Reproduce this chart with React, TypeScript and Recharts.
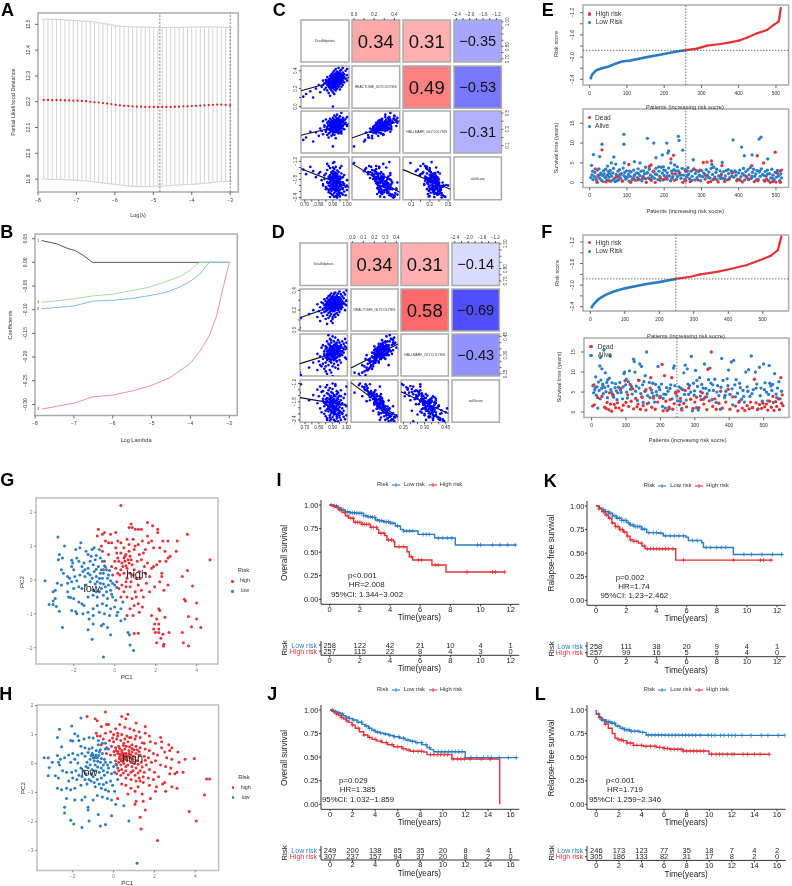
import React from "react";
import {
  ComposedChart,
  Line,
  Scatter,
  XAxis,
  YAxis,
  ErrorBar,
  ReferenceArea,
  ReferenceLine,
  ReferenceDot,
} from "recharts";

const RED = "#e0333a";
const BLUE = "#2b7cc2";
const INK = "#333";
const FRAME = "#ababab";
const PAD = 34;

// ---- A: lasso cv ----
const cvLambda = [-7.85,-7.74,-7.63,-7.52,-7.41,-7.3,-7.19,-7.08,-6.97,-6.86,-6.75,-6.64,-6.53,-6.42,-6.31,-6.2,-6.09,-5.98,-5.87,-5.76,-5.65,-5.54,-5.43,-5.32,-5.21,-5.1,-4.99,-4.88,-4.77,-4.66,-4.55,-4.44,-4.33,-4.22,-4.11,-4.0,-3.89,-3.78,-3.67,-3.56,-3.45,-3.34,-3.23,-3.12,-3.0];
const cvMean = [12.207,12.207,12.206,12.206,12.206,12.205,12.205,12.204,12.204,12.203,12.202,12.2,12.198,12.197,12.195,12.193,12.191,12.188,12.186,12.184,12.183,12.182,12.181,12.181,12.18,12.18,12.18,12.18,12.18,12.18,12.18,12.181,12.181,12.182,12.182,12.183,12.184,12.185,12.186,12.187,12.188,12.189,12.189,12.188,12.186];
const cvUpper = [12.52,12.52,12.519,12.519,12.518,12.517,12.516,12.515,12.514,12.513,12.512,12.511,12.509,12.506,12.504,12.501,12.498,12.495,12.493,12.492,12.491,12.49,12.49,12.49,12.489,12.489,12.488,12.487,12.487,12.487,12.488,12.488,12.488,12.489,12.489,12.489,12.49,12.49,12.49,12.49,12.49,12.49,12.489,12.488,12.487];
const cvLower = [11.9,11.899,11.899,11.898,11.898,11.897,11.897,11.896,11.895,11.894,11.893,11.891,11.889,11.887,11.885,11.883,11.881,11.879,11.877,11.875,11.873,11.872,11.871,11.871,11.871,11.871,11.872,11.872,11.873,11.874,11.875,11.876,11.877,11.878,11.879,11.88,11.881,11.882,11.884,11.885,11.887,11.889,11.891,11.891,11.89];
const cvTopPos = [-7.83,-7.55,-7.27,-6.99,-6.71,-6.43,-6.15,-5.87,-5.59,-5.31,-5.03,-4.75,-4.47,-4.19,-3.91,-3.63,-3.35,-3.07];
const cvTopCount = [4,4,4,4,4,3,3,3,3,3,3,3,3,3,3,2,1,1];

// ---- B: coefficient paths ----
const pathBlack = [[-7.83,.046],[-7.44,.039],[-7.18,.03],[-6.97,.025],[-6.76,.015],[-6.52,0],[-3,0]];
const pathGreen = [[-7.83,-.084],[-7.53,-.082],[-7,-.077],[-6.52,-.071],[-5.98,-.067],[-5.47,-.059],[-5.04,-.052],[-4.61,-.04],[-4.27,-.03],[-4,-.016],[-3.78,0],[-3,0]];
const pathBlue = [[-7.83,-.098],[-7.53,-.096],[-7,-.092],[-6.52,-.082],[-5.98,-.08],[-5.47,-.076],[-5.04,-.07],[-4.61,-.063],[-4.27,-.052],[-4,-.04],[-3.76,-.025],[-3.52,0],[-3,0]];
const pathPink = [[-7.83,-.31],[-7.44,-.304],[-6.97,-.297],[-6.52,-.284],[-5.98,-.28],[-5.47,-.271],[-5.04,-.261],[-4.53,-.244],[-4,-.213],[-3.76,-.188],[-3.52,-.156],[-3.33,-.114],[-3.16,-.054],[-3,0]];
const pathTopPos = [-8,-7,-6,-5,-4,-3];
const pathTopCount = [4,4,3,3,3,1];

// ---- C and D: patients [disulfidptosis, reactome, hallmark, risk] ----
const pairRowsC = [
[.69,.11,.17,-1.47],[.71,.14,.2,-1.62],[.74,.17,.27,-1.38],[.76,.1,.15,-1.52],[.78,.2,.26,-1.72],[.8,.24,.22,-1.6],[.81,.16,.31,-1.55],[.82,.22,.28,-1.82],[.83,.29,.24,-1.95],[.84,.19,.33,-1.66],
[.84,.26,.35,-1.78],[.85,.3,.29,-2.05],[.85,.21,.27,-1.6],[.86,.24,.38,-1.88],[.86,.33,.33,-2.1],[.86,.18,.3,-1.48],[.87,.27,.25,-1.7],[.87,.22,.36,-1.92],[.87,.31,.4,-2.15],[.87,.15,.2,-1.35],
[.88,.25,.31,-1.8],[.88,.34,.37,-2.02],[.88,.2,.34,-1.65],[.88,.28,.43,-2.25],[.88,.12,.26,-1.42],[.89,.36,.35,-2.28],[.89,.23,.28,-1.95],[.89,.3,.32,-1.72],[.89,.26,.41,-2.08],[.89,.18,.22,-1.58],
[.89,.33,.29,-2.18],[.9,.0,.09,-1.25],[.9,.27,.36,-1.85],[.9,.21,.3,-1.52],[.9,.35,.44,-2.32],[.9,.29,.24,-1.98],[.9,.24,.33,-1.68],[.9,.38,.38,-2.12],[.9,.16,.27,-1.75],[.9,.31,.4,-1.9],
[.91,.26,.34,-2.02],[.91,.22,.27,-1.45],[.91,.33,.36,-2.25],[.91,.4,.47,-2.38],[.91,.19,.31,-1.63],[.91,.28,.29,-1.78],[.91,.36,.42,-2.05],[.91,.24,.38,-1.92],[.91,.3,.33,-2.15],[.91,.14,.23,-1.55],
[.92,.27,.32,-1.72],[.92,.34,.39,-2.2],[.92,.21,.35,-1.85],[.92,.37,.3,-2.35],[.92,.25,.26,-1.38],[.92,.31,.45,-2.0],[.92,.42,.41,-2.1],[.92,.18,.19,-1.66],[.92,.29,.37,-1.95],[.92,.23,.33,-2.08],
[.93,.33,.35,-1.8],[.93,.28,.4,-2.28],[.93,.39,.43,-2.4],[.93,.2,.29,-1.5],[.93,.26,.31,-1.75],[.93,.36,.27,-2.12],[.93,.31,.48,-1.98],[.93,.23,.36,-1.62],[.94,.3,.34,-2.22],[.94,.38,.4,-1.9],
[.94,.27,.25,-1.84],[.94,.34,.44,-2.05],[.94,.22,.31,-1.55],[.94,.43,.38,-2.3],[.94,.29,.37,-1.7],[.95,.32,.42,-2.15],[.95,.25,.3,-1.42],[.95,.37,.33,-1.95],[.95,.4,.46,-2.36],[.95,.28,.39,-2.02],
[.95,.19,.26,-1.78],[.96,.34,.36,-2.1],[.96,.26,.34,-1.6],[.96,.41,.41,-2.25],[.96,.31,.28,-1.88],[.96,.36,.5,-2.0],[.97,.29,.35,-1.72],[.97,.38,.39,-2.3],[.97,.24,.31,-2.12],[.97,.43,.44,-1.9],
[.98,.33,.37,-1.95],[.98,.27,.41,-2.2],[.98,.36,.3,-1.65],[.99,.31,.38,-2.05],[.99,.4,.43,-2.32],[1.0,.35,.45,-2.0],[1.0,.29,.35,-1.82],[1.0,.42,.34,-2.15],[.93,.26,.29,-2.36],[.91,.35,.32,-1.22],
[.88,.3,.35,-2.38],[.85,.27,.42,-2.12],[.83,.24,.4,-2.0],[.94,.23,.28,-2.28],[.9,.32,.37,-1.4],[.89,.27,.39,-1.55],[.92,.36,.36,-1.58],[.87,.25,.34,-2.22],[.96,.22,.25,-1.35],[.86,.29,.23,-1.28],
[.86,.28,.31,-1.9],[.87,.24,.3,-2.0],[.87,.29,.35,-1.76],[.88,.22,.38,-1.72],[.88,.31,.29,-1.88],[.88,.26,.35,-2.12],[.89,.28,.33,-1.84],[.89,.21,.32,-1.78],[.89,.32,.38,-1.98],[.9,.25,.37,-2.05],
[.9,.29,.33,-1.62],[.9,.23,.27,-1.9],[.9,.33,.34,-2.1],[.91,.27,.37,-1.7],[.91,.31,.31,-1.86],[.91,.25,.3,-2.12],[.91,.34,.4,-1.92],[.92,.24,.29,-1.76],[.92,.28,.35,-2.18],[.92,.32,.33,-1.86],
[.92,.26,.41,-1.6],[.92,.35,.36,-2.02],[.93,.3,.37,-1.92],[.93,.24,.33,-2.0],[.93,.34,.31,-1.7],[.93,.27,.35,-2.15],[.93,.37,.38,-1.84],[.94,.26,.36,-1.92],[.94,.32,.32,-2.08],[.94,.35,.37,-1.78],
[.94,.25,.41,-2.18],[.95,.3,.36,-1.7],[.95,.34,.31,-2.24],[.95,.26,.37,-1.88],[.95,.36,.4,-1.8],[.96,.29,.32,-2.0],[.96,.33,.39,-1.74],[.96,.27,.38,-2.26],[.97,.32,.34,-1.9],[.97,.35,.42,-2.08],
];
const pairRowsD = [
[.66,.02,.16,-1.5],[.67,.12,.14,-1.22],[.73,.16,.2,-1.75],[.76,.2,.24,-1.58],[.79,.13,.18,-1.4],[.79,.26,.31,-1.85],[.8,.19,.25,-1.62],[.81,.09,.22,-1.3],[.81,.23,.29,-2.02],[.82,.17,.21,-1.48],
[.82,.28,.36,-2.15],[.83,.21,.27,-1.78],[.83,.14,.23,-1.45],[.84,.25,.33,-1.95],[.84,.31,.3,-2.2],[.84,.18,.19,-1.6],[.85,.22,.28,-1.72],[.85,.11,.17,-1.32],[.85,.29,.37,-2.28],[.85,.24,.24,-1.88],
[.86,.15,.26,-1.52],[.86,.32,.41,-2.35],[.86,.2,.31,-1.68],[.86,.27,.28,-2.05],[.86,.06,.15,-1.25],[.87,.23,.34,-1.82],[.87,.3,.33,-2.12],[.87,.17,.22,-1.55],[.87,.26,.39,-2.0],[.87,.12,.27,-1.42],
[.88,.21,.25,-1.7],[.88,.35,.43,-2.42],[.88,.28,.3,-1.92],[.88,.18,.32,-1.6],[.88,.24,.36,-1.98],[.88,.31,.38,-2.25],[.88,.14,.18,-1.35],[.89,.25,.29,-1.85],[.89,.2,.26,-1.48],[.89,.33,.35,-2.18],
[.89,.27,.42,-2.08],[.89,.16,.24,-1.65],[.89,.22,.33,-1.75],[.89,.37,.4,-2.38],[.9,.29,.31,-2.02],[.9,.19,.28,-1.52],[.9,.24,.37,-1.9],[.9,.34,.34,-2.3],[.9,.11,.21,-1.38],[.9,.26,.27,-1.8],
[.9,.31,.45,-2.15],[.9,.21,.3,-1.68],[.91,.28,.35,-2.1],[.91,.15,.26,-1.58],[.91,.36,.38,-2.22],[.91,.23,.32,-1.95],[.91,.19,.23,-1.72],[.91,.3,.41,-2.4],[.91,.25,.29,-1.62],[.92,.33,.37,-2.05],
[.92,.2,.34,-1.85],[.92,.27,.3,-1.78],[.92,.13,.2,-1.28],[.92,.38,.44,-2.45],[.92,.24,.39,-2.0],[.92,.3,.27,-2.12],[.93,.22,.31,-1.55],[.93,.35,.33,-2.28],[.93,.17,.25,-1.45],[.93,.28,.4,-1.92],
[.93,.32,.36,-2.35],[.93,.25,.28,-1.7],[.94,.2,.32,-1.82],[.94,.37,.42,-2.18],[.94,.29,.35,-2.08],[.94,.15,.19,-1.5],[.94,.26,.37,-1.65],[.95,.33,.3,-2.25],[.95,.22,.26,-1.88],[.95,.39,.4,-2.32],
[.95,.28,.34,-1.98],[.95,.18,.29,-1.6],[.96,.31,.38,-2.15],[.96,.25,.33,-1.75],[.96,.36,.31,-2.4],[.96,.21,.24,-1.42],[.97,.29,.36,-2.02],[.97,.34,.41,-2.2],[.97,.23,.3,-1.85],[.98,.27,.35,-1.68],
[.98,.38,.39,-2.3],[.98,.32,.32,-2.1],[.99,.26,.28,-1.55],[.99,.36,.43,-2.38],[.99,.2,.37,-1.9],[1.0,.4,.36,-2.25],[1.0,.3,.4,-1.95],[1.0,.25,.27,-1.3],[.9,.07,.13,-1.2],[.94,.33,.22,-2.45],
[.86,.25,.36,-2.4],[.88,.26,.33,-2.32],[.92,.16,.27,-1.22],[.85,.19,.21,-2.1],[.93,.24,.25,-2.22],[.9,.13,.3,-1.78],[.83,.27,.38,-1.7],[.87,.34,.46,-2.02],[.91,.37,.34,-1.95],[.89,.09,.16,-1.62],
[.84,.22,.31,-1.84],[.85,.26,.35,-1.8],[.86,.23,.29,-1.9],[.86,.28,.33,-1.78],[.87,.25,.31,-1.96],[.87,.21,.28,-1.7],[.87,.29,.3,-2.02],[.88,.23,.33,-1.88],[.88,.26,.27,-1.76],[.88,.3,.35,-2.06],
[.89,.24,.32,-1.94],[.89,.28,.37,-1.82],[.89,.21,.29,-1.78],[.89,.31,.31,-2.1],[.9,.25,.34,-1.72],[.9,.27,.31,-2.0],[.9,.23,.29,-1.86],[.9,.32,.36,-1.96],[.91,.26,.33,-1.8],[.91,.21,.35,-1.76],
[.91,.29,.28,-2.16],[.91,.33,.33,-2.04],[.92,.25,.31,-2.02],[.92,.22,.28,-1.62],[.92,.28,.38,-1.84],[.92,.31,.34,-2.2],[.93,.26,.34,-1.84],[.93,.23,.35,-1.96],[.93,.3,.31,-2.06],[.93,.33,.38,-1.76],
[.94,.24,.29,-1.72],[.94,.28,.33,-1.9],[.94,.31,.36,-2.24],[.94,.22,.35,-2.04],[.95,.26,.31,-1.8],[.95,.3,.37,-2.1],[.95,.24,.35,-2.16],[.96,.28,.3,-1.9],[.96,.23,.36,-1.62],[.97,.26,.33,-2.18],
];
const varNames = ["Disulfidptosis", "REACTOME_GLYCOLYSIS", "HALLMARK_GLYCOLYSIS", "riskScore"];
const corrC = [[0,.34,.31,-.35],[0,0,.49,-.53],[0,0,0,-.31]];
const corrD = [[0,.34,.31,-.14],[0,0,.58,-.69],[0,0,0,-.43]];
// fit line ends per [row, col], as risk/hallmark/reactome values at both ends of the x range
const fitC = { "1,0": [.176,.325], "2,0": [.226,.369], "3,0": [-1.44,-2.06], "2,1": [.193,.406], "3,1": [-1.27,-2.22], "3,2": [-1.47,-2.12] };
const fitD = { "1,0": [.123,.293], "2,0": [.232,.349], "3,0": [-1.664,-1.928], "2,1": [.197,.389], "3,1": [-1.17,-2.313], "3,2": [-1.467,-2.19] };
const tickC = [
  { all: [.7,.75,.8,.85,.9,.95,1], xLab: [.7,.8,.9,1], yLab: [.7,.8,1], dec: 2 },
  { all: [0,.1,.2,.3,.4], xLab: [0,.2,.4], yLab: [0,.2,.4], dec: 1 },
  { all: [.1,.2,.3,.4,.5], xLab: [.1,.3,.5], yLab: [.1,.3,.5], dec: 1 },
  { all: [-2.4,-2.2,-2,-1.8,-1.6,-1.4,-1.2], xLab: [-2.4,-2,-1.6,-1.2], yLab: [-2.4,-1.8,-1.2], dec: 1 },
];
const tickD = [
  { all: [.7,.75,.8,.85,.9,.95,1], xLab: [.7,.8,.9,1], yLab: [.7,.8,1], dec: 2 },
  { all: [0,.1,.2,.3,.4], xLab: [0,.1,.2,.3,.4], yLab: [0,.2,.4], dec: 1 },
  { all: [.15,.2,.25,.3,.35,.4,.45], xLab: [.15,.3,.45], yLab: [.15,.3,.45], dec: 2 },
  { all: [-2.4,-2.2,-2,-1.8,-1.6,-1.4,-1.2], xLab: [-2.4,-2,-1.6,-1.2], yLab: [-2.4,-1.8,-1.2], dec: 1 },
];

// ---- E: risk curve and survival scatter ----
const riskLowE = [[2,-2.4],[6,-2.32],[17,-2.24],[33,-2.2],[51,-2.17],[69,-2.12],[87,-2.08],[109,-2.06],[154,-2],[199,-1.945],[234,-1.9],[258,-1.875]];
const riskHighE = [[258,-1.875],[288,-1.848],[315,-1.794],[351,-1.764],[377,-1.734],[400,-1.704],[422,-1.65],[449,-1.572],[476,-1.512],[494,-1.42],[507,-1.362],[510,-1.27],[511,-1.2],[513,-1.116]];
const survDeadE = [[33,8.3],[15,3.5],[105,4.6],[160,4.1],[165,4.5],[218,6],[225,6.9],[305,5.1],[315,5.2],[327,5.5],[355,4.3],[450,6.8],[467,5],[498,7.7],[435,4.3],[22,1.7],[20,.1],[44,.2],[52,.5],[70,1.4],[78,1.7],[88,.4],[110,.1],[118,1],[130,.7],[145,1.3],[152,.1],[163,.9],[172,2.9],[176,.1],[190,1.2],[200,.9],[208,.9],[222,2.3],[228,.6],[240,2.4],[250,.1],[258,.5],[262,3],[270,.3],[280,3.5],[290,.7],[296,3.2],[312,1.7],[318,.1],[325,.3],[335,.9],[345,.2],[352,1.8],[362,.3],[374,.9],[382,2.5],[395,.5],[402,.8],[410,.2],[420,1.6],[428,.9],[442,.3],[452,.5],[470,.4],[475,.9],[485,.1],[492,.3],[500,.2],[505,2.5],[512,.1],[515,3.2]];
const survAliveE = [[5,4.4],[10,7.1],[27,6.6],[33,9.7],[92,12.2],[92,9.7],[155,11.2],[172,10],[178,6.3],[207,10],[210,7.5],[212,8],[195,7],[238,11.7],[240,10.7],[250,8.2],[278,5.8],[385,10.8],[408,9],[415,6.8],[436,7],[455,11],[460,11.5],[478,6],[356,5.1],[65,6.5],[58,5],[70,4.7],[93,5],[120,5.3],[135,5],[218,5],[228,4.5],[235,4],[48,4.2],[150,3.9],[185,4],[198,4],
[3,1.3],[6,2],[9,.8],[12,1.6],[14,2.6],[17,1],[21,3.2],[23,1.9],[25,3.5],[27,1.1],[30,2.4],[32,.6],[35,1.8],[37,3],[39,2.2],[41,1.3],[43,3.4],[46,.7],[48,2],[50,2.8],[52,1.4],[55,3.1],[57,.4],[59,1.7],[62,2.5],[64,3.6],[66,1],[68,.3],[71,2.1],[73,1.5],[76,2.9],[78,.8],[80,3.3],[83,1.2],[85,2.3],[87,.5],[90,3.7],[92,1.8],[94,2.6],[97,.9],[99,3],[101,1.4],[104,2.1],[106,.4],[109,1.6],[111,2.7],[114,.7],[116,1.1],[118,3.2],[121,2],[123,.6],[126,2.5],[128,1.3],[130,3.5],[133,.9],[135,1.8],[138,2.9],[140,.5],[143,1.5],[145,3],[147,2.2],[150,1],[155,2.6],[158,1.2],[160,3.4],[163,2],[166,.6],[168,1.5],[170,2.8],[174,1.1],[178,3.6],[180,2.1],[183,.8],[186,2.9],[188,1.6],[192,3.9],[195,2.4],[197,.7],[200,1.8],[203,3.1],[205,1.3],[208,2.5],[212,3.7],[214,1.7],[217,.5],[220,2.9],[223,1.5],[226,3.3],[230,2.2],[233,.9],[236,1.6],[238,3],[242,2.5],[245,1.1],[248,3.6],[252,1.9],[255,.8],[258,2.8],[260,1.4],[264,3.8],[266,2.2],[268,1],[272,2.9],[275,1.6],[278,3.3],[282,.7],[284,2.3],[288,1.3],[292,2.8],[294,1.9],[298,.5],[300,3.1],[303,1.5],[306,2.5],[310,.9],[313,3.3],[316,1.9],[320,2.7],[323,1.2],[326,3.6],[328,4.6],[330,2.1],[333,3.9],[336,1.4],[339,2.6],[342,.8],[346,1.7],[350,3],[354,2.2],[357,1.1],[360,2.8],[364,1.7],[367,3.1],[370,.7],[373,2.3],[376,1.3],[380,3],[384,2.6],[387,1.4],[390,3],[393,1.9],[397,.9],[400,2.5],[403,3.2],[406,1.5],[410,2.3],[413,3.6],[416,.7],[419,2.8],[422,1.3],[425,3.3],[428,2],[431,3.8],[434,1.1],[437,2.6],[440,3.4],[443,1.6],[446,2.2],[449,3.1],[452,.9],[455,2.7],[458,1.6],[461,3.5],[464,2.1],[468,.6],[471,2.8],[474,1.7],[477,3.2],[480,.5],[483,2.3],[486,1.2],[489,3.4],[492,1.9],[495,.8],[498,2.6],[501,1.4],[504,3.1],[507,1.7],[510,.5],[513,2.2],[515,1.2],
[8,2.9],[19,.5],[28,2],[36,.3],[44,1.5],[54,2.3],[63,.8],[74,.5],[82,2.1],[95,1.5],[107,2.9],[119,1.7],[131,2.3],[142,1.1],[153,2.4],[161,1.1],[176,2.2],[189,.6],[199,3.2],[209,1.7],[221,1.1],[231,3],[244,1.9],[256,3.3],[263,1.9],[274,.6],[286,3.1],[297,1.7],[309,2.1],[319,1.3],[331,.8],[341,3.4],[351,1.1],[363,.9],[372,3.3],[382,1.7],[392,2.7],[404,.6],[415,1.9],[426,.8],[436,1.6],[447,.7],[457,3],[469,1.8],[478,2.2],[491,1.1],[503,2.4],[512,3]];

// ---- F ----
const riskLowF = [[2,-2.43],[10,-2.35],[24,-2.26],[44,-2.18],[68,-2.12],[100,-2.06],[155,-1.99],[203,-1.94],[248,-1.885]];
const riskHighF = [[248,-1.885],[290,-1.845],[319,-1.8],[367,-1.754],[406,-1.7],[454,-1.627],[493,-1.534],[522,-1.46],[544,-1.35],[549,-1.225],[554,-1.1]];
const survDeadF = [[3,1.5],[8,1.8],[7,6.8],[18,3.6],[30,3.9],[38,1.2],[42,.9],[45,2.4],[50,.6],[52,4.8],[55,2],[58,.2],[62,4.2],[66,1.9],[70,1.1],[75,2.3],[80,1],[85,5.9],[88,.4],[92,1.7],[97,7.8],[100,2.4],[105,4.3],[108,1.4],[112,6.9],[115,2.7],[120,5.8],[122,.8],[128,3.4],[132,1.3],[135,2],[138,7.9],[142,.7],[147,3.7],[150,1.6],[155,5.2],[158,.5],[162,2.1],[170,6],[172,8.6],[175,1.2],[180,3.5],[185,.7],[192,2.5],[198,3.6],[205,11.9],[208,.3],[212,9.1],[216,2.7],[220,.4],[225,1.2],[228,3.1],[233,8.6],[236,.7],[240,2.1],[245,4.7],[252,5.2],[255,1.8],[258,3.4],[262,.5],[268,2.2],[272,5.4],[276,1.3],[282,6],[288,3.2],[295,.9],[300,2.5],[305,3.7],[312,1.1],[318,3.1],[322,4.8],[326,2],[330,3.7],[335,.6],[338,10.7],[342,2.8],[348,15],[352,1.4],[358,3.3],[362,.7],[370,2.2],[375,5.2],[380,1],[390,2.5],[397,5.7],[402,.7],[410,3.8],[418,1.5],[425,.3],[430,2.7],[438,1],[445,.4],[452,1.6],[458,.8],[462,2.5],[468,1.1],[473,8.2],[478,2.3],[482,.6],[488,1.9],[494,.9],[498,2.2],[503,1.3],[508,2],[512,.5],[517,2.7],[522,1.2],[527,3.9],[530,.4],[535,2.6],[538,1.4],[543,3.3],[546,.6],[550,8.6],[552,2.2],[554,4.3],[556,1.6]];
const survAliveF = [[4,6.6],[6,4.8],[9,5.5],[12,8.8],[14,4.2],[16,6.3],[18,1],[20,7.5],[22,5.4],[24,11.5],[26,13.6],[27,8],[29,5.9],[30,10.8],[32,7],[34,4.6],[36,15.5],[38,6.1],[40,9.8],[42,5.1],[44,7.4],[46,3.6],[48,6.5],[52,8.5],[54,14],[56,5.6],[60,7.3],[62,4.4],[64,3.7],[70,7.1],[72,5.3],[74,3.1],[78,6.2],[82,7.4],[86,4.9],[90,3.3],[94,9.6],[96,10],[99,6.8],[102,5],[104,3.5],[107,7.6],[110,10.3],[113,5.7],[118,4.5],[122,13.2],[124,12.6],[126,10],[130,6.5],[133,2.9],[136,8],[140,12],[143,4.6],[145,11.4],[148,6.8],[150,2.4],[152,7.6],[156,9.1],[160,15],[163,4.1],[166,2.3],[170,3.6],[174,5.5],[178,7.2],[180,4],[183,2.5],[186,6.9],[190,4.2],[193,11.4],[196,6.2],[200,3.9],[203,7],[206,1.4],[210,4.5],[214,1],[218,6.1],[222,5.2],[226,.8],[230,6.8],[234,3.3],[238,11],[240,11.5],[244,5],[248,4],[254,6.3],[258,2.7],[262,.9],[265,5.6],[268,9.8],[272,11.7],[275,3],[278,10.8],[282,4.4],[285,6.6],[290,13.9],[293,.3],[296,7.2],[299,5.3],[302,10.4],[305,1.1],[308,6.4],[310,.5],[314,8.6],[317,5.1],[320,6.9],[325,3.2],[328,12],[332,5.9],[336,4.6],[340,8.1],[344,11],[347,7.2],[350,3.1],[354,5.4],[358,8.2],[362,2.4],[366,6.6],[370,4.1],[374,.7],[378,13.4],[382,7.9],[386,3.6],[390,5.2],[394,8.3],[398,10.5],[402,4.4],[406,12.5],[410,1.8],[413,12.9],[416,6.8],[420,8.1],[424,4.7],[428,2.4],[432,6.1],[436,3.2],[440,5.4],[444,2.5],[448,10],[452,6.3],[456,10.6],[460,3.9],[464,14],[467,1.1],[470,5.6],[476,10],[480,7],[484,.8],[488,11.2],[492,6],[496,2.7],[500,12],[504,7.3],[508,5],[512,2.8],[516,11.6],[518,7.2],[521,6.5],[524,5.4],[528,2.4],[532,9.6],[536,4.5],[540,6],[544,7.6],[548,3.3],[552,5.2],
[11,6.1],[25,3.3],[33,6.6],[47,8.1],[58,4.9],[68,6.1],[76,4.8],[84,5.6],[92,6.3],[101,8.2],[116,6.4],[128,5.2],[138,6],[146,3.8],[158,5.6],[168,7.4],[176,4.8],[188,5.1],[198,5.6],[208,3.4],[216,4.4],[228,5.9],[242,6.6],[250,2.8],[260,5.9],[270,4.4],[280,7],[288,5],[298,4.2],[306,7.9],[316,4],[324,6],[334,3.8],[342,5.4],[352,6.8],[364,5],[376,6.2],[388,4.2],[396,6.6],[408,5.8],[418,3.8],[430,7.2],[442,3.9],[454,5.2],[466,4.6],[478,6],[490,4.1],[502,5.6],[514,4.4],[526,6.9],[538,3.6]];

// ---- G and H: PCA ----
const pcaHighG = [[.3,2.2],[.8,1.65],[.85,1.55],[.7,1.55],[1,1.5],[1.15,1.5],[1.3,1.5],[1.6,1.7],[1.85,1.6],[2.1,1.5],[2.1,1.4],[-.8,1.5],[-.6,1.35],[-.5,1.4],[-.85,1.3],[-.2,1.35],[.05,1.4],[1.6,1.3],[3.55,1.35],[2.35,1.15],[2.6,1.15],[3.05,1.15],[3,.85],[2.7,.7],[2.6,.65],[2.5,.55],[4.65,.6],[3.55,.28],[3.3,.1],[3.8,-.18],[2.6,-.15],[2.3,.2],[2.3,.1],[2.4,-.3],[-.65,1],[-.6,.85],[-.3,1.1],[-.15,1.1],[.05,.95],[.1,.8],[.3,1.1],[.45,.95],[.7,1.05],[.9,1.2],[1.15,1.05],[1.35,1.15],[1.65,1.1],[1.8,1.15],[1.9,.95],[2.2,.95],[2.45,.85],[1.5,.9],[1.2,.75],[.95,.9],[.7,.85],[.55,.75],[.45,.65],[.3,.8],[.15,.65],[0,.55],[-.3,.75],[-.5,.55],[-.55,.3],[-.15,.4],[.05,.35],[.2,.55],[.35,.5],[.5,.55],[.6,.35],[.75,.7],[.85,.45],[.95,.3],[1.1,.55],[1.3,.6],[1.45,.4],[1.6,.5],[1.8,.35],[1.9,.4],[2.05,.45],[2.2,.55],[1.7,.1],[2.2,-.05],[1.95,-.2],[1.55,-.1],[1.25,.05],[1.05,.05],[.8,-.05],[.6,.05],[.45,.2],[.25,.15],[.1,-.05],[.35,-.15],[.55,-.2],[.75,-.2],[1,-.35],[1.3,-.3],[1.7,-.35],[1.4,-.5],[1.05,-.5],[.85,-.55],[.6,-.5],[.3,-.5],[.45,-.35],[1.35,-.8],[1.15,-.7],[.95,-.75],[.75,-.85],[1.2,-.95],[.9,-1.05],[.6,-1.05],[1.8,-1.05],[2.15,-.85],[2.2,-.9],[2.05,-1.15],[2.45,-1.1],[3.4,-.57],[3.45,-.62],[4,-.68],[3.6,-1.08],[4,-1.15],[4.2,-1.4],[3.75,-1.38],[3.3,-1.55],[3.35,-1.85],[3.6,-1.95],[2.65,-1.55],[2.35,-1.6],[2.25,-1.72],[2.4,-1.9],[2.38,-1.95],[2.05,-1.85],[2.15,-1.3],[2.15,-1.45],[2.15,-1.55],[1.95,-1.3],[1.9,-1.45],[1.98,-1.55],[1.15,-1.57],[.95,-1.58],
[.5,.7],[.65,.6],[.8,.6],[.4,.4],[.55,.42],[.7,.5],[.3,.3],[.15,.2],[.9,.15],[1.2,.25],[1.5,.2],[-.1,.15],[.75,.2],[.55,-.05],[.2,-.25],[1.15,-.15],[1.4,.8],[1,1],[.6,1.2],[.15,1.15],[-.45,1.15]];
const pcaLowG = [[-3.4,-.02],[-3.2,-.72],[-3,-.72],[-3,-.62],[-2.9,-.55],[-2.85,-.78],[-3,-.35],[-2.9,-.3],[-2.6,-.15],[-2.8,-.1],[-2.77,1.27],[-2.45,1],[-1.65,1.1],[-1.7,.95],[-1.9,.9],[-1.4,.85],[-1.1,.9],[-1,.95],[-2.7,.75],[-2.75,.6],[-2.55,.65],[-2.1,.58],[-2.05,.5],[-2.1,.4],[-2,.3],[-1.5,.5],[-1.3,.75],[-1.15,.7],[-.9,.72],[-.75,.9],[-.7,.65],[-2.6,.3],[-2.5,.2],[-2.3,.1],[-2.2,.05],[-2.1,-.05],[-1.85,-.02],[-1.95,.1],[-1.6,.4],[-1.55,.25],[-1.45,.1],[-1.3,.35],[-1.2,.15],[-1.05,.45],[-1,.25],[-.9,.1],[-.8,.4],[-.7,.2],[-.6,.05],[-.5,.42],[-.4,.3],[-.3,.15],[-.2,-.02],[-.1,-.1],[0,-.15],[.1,-.22],[-.2,-.3],[-.45,-.2],[-.7,-.1],[-.95,-.12],[-1.2,-.05],[-1.4,-.15],[-1.6,-.25],[-1.75,-.2],[-2,-.25],[-2.25,-.5],[-2.15,-.52],[-2,-.55],[-2.3,-.35],[-1.75,-.65],[-1.6,-.7],[-1.5,-.75],[-1.3,-.5],[-1.05,-.45],[-.85,-.5],[-.75,-.35],[-.55,-.45],[-.35,-.55],[-.1,-.5],[.05,-.6],[.4,-.65],[.3,-.85],[.15,-.95],[0,-.8],[-.2,-.85],[-.4,-.75],[-.6,-.7],[-.85,-.75],[-1.05,-.85],[-1.3,-.95],[-1.55,-1],[-1.85,-1],[-2.1,-.9],[-1.9,-.93],[-2.7,-.92],[-2.55,-1.4],[-1.25,-1.15],[-1.05,-1.05],[-.75,-.95],[-.5,-1],[-.25,-1.05],[.1,-1.05],[.3,-1.2],[.5,-1.15],[-1.05,-1.3],[-.65,-1.35],[-.55,-1.3],[-.35,-1.4],[-1.3,-1.47],[-1.1,-1.75],[-.2,-1.62],[.65,-1.55],[.72,-1.62],[.75,-1.92],[.92,-2.08],[-.55,-2.27],
[-.75,.05],[-.55,.2],[-.35,.05],[-.65,.3],[-.45,.38],[-.9,.32],[-1.1,.05],[-1.3,.2],[-.85,-.05],[-.55,-.12],[-.3,-.15],[-1.05,-.3],[-.65,-.25],[-.4,-.35],[-.9,-.35],[-1.45,.3],[-1.2,.55],[-.6,.55],[-.95,.6],[-2.3,-.1],[-1.7,.15],[-1.75,.55],[-1.85,.65],[-.25,.28],[-.15,-.42]];
const pcaHighH = [[2.15,-2.65],[1.35,-2.25],[1.3,-1.85],[3.7,-1.65],[4.05,-1.98],[4.45,-1.08],[4.55,-.53],[4.7,-.53],[3.95,.18],[3.5,.15],[3.2,.05],[-1.3,1.62],[-.9,1.55],[-.8,1.48],[-.4,1.78],[.4,1.62],[.6,1.55],[.7,1.7],[1.1,1.4],[1.55,1.28],[-.6,1.28],[-.35,1.35],[-.25,1.35],[.1,1.2],[.3,1.35],[.55,1.25],[.8,1.2],[1,1.15],[1.25,1.1],[1.55,1.05],[1.75,.95],[2.3,.9],[2.35,.75],[2.7,.65],[2.85,.55],[2.75,.45],[3.15,.4],[2.05,.7],[2.35,.55],[2.5,.4],[-.85,1.05],[-.8,.95],[-.65,.95],[-.4,1.05],[-.15,1.1],[0,1],[.2,1.05],[.4,1],[.65,.95],[.85,.9],[1.05,.85],[1.3,.9],[1.5,.7],[1.8,.75],[-.5,.85],[-.2,.8],[0,.75],[.15,.85],[.35,.8],[.5,.7],[.7,.75],[.9,.65],[1.1,.6],[1.3,.55],[1.55,.5],[1.75,.45],[1.95,.35],[2.15,.3],[2.6,.2],[2.85,.15],[-.6,.65],[-.35,.55],[-.1,.6],[.1,.55],[.25,.6],[.4,.45],[.55,.5],[.75,.45],[.9,.4],[1.1,.35],[1.3,.3],[1.5,.25],[1.7,.2],[1.85,.05],[2.05,.1],[2.3,-.05],[2.55,-.1],[2.8,-.15],[3.1,-.3],[3,-.35],[2.75,-.35],[3.4,-.3],[-.35,.35],[-.15,.3],[.05,.3],[.2,.35],[.3,.25],[.35,.15],[.4,.3],[.45,.2],[.5,.25],[.55,.15],[.6,.35],[.7,.25],[.8,.2],[.95,.15],[1.15,.1],[1.35,.05],[1.6,-.05],[.1,.1],[.25,.05],[.5,0],[.7,-.05],[.9,-.1],[1.1,-.15],[1.3,-.25],[1.5,-.3],[1.75,-.2],[2,-.3],[2.2,-.45],[2.5,-.65],[1.95,-.55],[1.7,-.5],[1.45,-.45],[1.25,-.5],[1.05,-.4],[.85,-.3],[.6,-.25],[.4,-.2],[.2,-.15],[.15,-.35],[.35,-.4],[.6,-.5],[.85,-.55],[1.1,-.6],[1.3,-.6],[1.45,-.65],[1.75,-.75],[2.1,-.8],[2.4,-.7],[2.85,-.8],[3.1,-.85],[.4,-.7],[.6,-.75],[.85,-.85],[1.05,-.95],[1.2,-.8],[1.4,-1.05],[1.8,-1.2],[2.05,-.95],[2.55,-.95],[.7,-1.05],[1.1,-1.3],[1.05,-1.4],[1.45,-1.3],[.2,-1.2],[1.55,-1.6],
[.32,.32],[.42,.38],[.5,.35],[.62,.28],[.28,.18],[.38,.1],[.45,.08],[.58,.2],[.66,.12],[.75,.35],[.85,.3],[.22,.42],[.12,.45],[.02,.42],[.3,.52],[.48,.62],[.62,.6],[.78,.58],[.9,.52],[1,.48],[1.15,.48],[1.25,.42],[.98,.25],[.85,.05],[1.02,0],[1.2,-.02],[.6,-.1],[.35,-.05],[.12,-.02],[.25,-.25],[.48,-.32],[.72,-.38],[.95,-.25],[1.2,-.32],[1.4,-.12],[1.55,.12],[.78,.9],[.55,.85],[.2,.95],[-.05,.88],[1.1,.95],[1.4,.72]];
const pcaLowH = [[-3.4,.2],[-3.2,.2],[-3.15,-.13],[-3.2,-.42],[-2.85,-.42],[-3,.05],[-2.75,.28],[-2.75,.9],[-2.65,1.18],[-2.55,.58],[-2.1,.8],[-2,.78],[-2.05,1.3],[-1.6,1.57],[-1.9,1.03],[-1.75,.95],[-1.7,.8],[-1.45,.85],[-1.2,.9],[-1,.88],[-.75,.8],[-2.7,.05],[-2.6,.15],[-2.65,-.05],[-2.5,-.25],[-2.7,-.5],[-2.75,-.85],[-2.55,-.9],[-2.3,-.85],[-2.3,-1.2],[-2.4,-1.5],[-2.4,-1.7],[-2.1,-1.95],[-1.95,-2.08],[-1.55,-2.2],[-1.2,-1.98],[-.65,-2.15],[-.4,-2.1],[.75,-1.98],[1.15,-3.43],[-.1,-1.8],[-.75,-1.75],[-1.25,-1.6],[-1.25,-1.5],[-1.9,-1.25],[-1.55,-1.25],[-1.4,-1.15],[-1,-1.25],[-.8,-1.1],[-.55,-1.15],[-.3,-1.2],[-.1,-1.25],[.1,-1.4],[.5,-1.45],[-2.1,-.9],[-1.9,-.85],[-1.6,-.75],[-1.3,-.7],[-1.1,-.6],[-.9,-.8],[-.6,-.85],[-.4,-.9],[-.25,-.95],[-.05,-.75],[.05,-.95],[-2.2,-.6],[-2,-.5],[-1.8,-.55],[-1.55,-.45],[-1.35,-.35],[-1.2,-.55],[-1,-.45],[-.8,-.55],[-.6,-.5],[-.35,-.65],[-.15,-.6],[-2.3,-.3],[-2.05,-.3],[-1.85,-.25],[-1.6,-.15],[-1.45,-.25],[-1.25,-.15],[-1.05,-.2],[-.9,-.25],[-.7,-.3],[-.5,-.25],[-.3,-.3],[-.1,-.35],[.05,-.3],[.2,-.55],[-2.1,.05],[-2,.35],[-1.9,.15],[-1.75,.3],[-1.55,.35],[-1.4,.25],[-1.3,.05],[-1.15,.15],[-1.05,.35],[-.95,.1],[-.8,.2],[-.65,.05],[-.5,-.05],[-.3,-.05],[-.15,.05],[0,-.1],[.15,-.05],[-1.6,.6],[-1.4,.55],[-1.2,.5],[-1.05,.55],[-.85,.45],[-.7,.4],[-.55,.35],[-.75,.65],[-.55,.7],[-.4,.7],[-.25,.5],[-.45,.15],[-.95,.2],[-1,.3],[-.85,.3],[-.9,-.05],
[-1,.2],[-.88,.22],[-.78,.08],[-1.1,.28],[-.72,.28],[-.6,.18],[-.4,.05],[-.25,-.15],[-.6,-.15],[-.78,-.12],[-1.15,-.05],[-1.35,-.1],[-1.7,-.4],[-1.1,-.35],[-.45,-.4],[-1.4,-.55],[-.95,-.65],[-.7,-.7],[-.5,-.72],[-1.75,.02],[-2.2,.3],[-2.4,.2],[-1.25,.38],[-.65,.48],[-.4,.5]];

// ---- I-L: survival curves ----
const kmLowI = [[0,1],[.2,.99],[.49,.972],[.75,.95],[1.04,.929],[1.35,.918],[1.7,.912],[2.25,.887],[2.5,.875],[2.8,.869],[3.03,.841],[3.3,.833],[3.58,.823],[4.02,.806],[4.35,.777],[4.69,.742],[4.9,.724],[5.86,.689],[6.96,.65],[8.33,.576]];
const kmHighI = [[0,1],[.2,.985],[.38,.975],[.6,.95],[.82,.919],[1.05,.885],[1.26,.859],[1.59,.816],[2.14,.795],[2.7,.763],[3.14,.742],[3.25,.7],[3.65,.675],[3.8,.629],[4.24,.611],[4.31,.558],[5.0,.555],[5.13,.505],[5.28,.452],[5.5,.417],[6.78,.364],[7.71,.29]];
const marksLowI = [.3,.45,.6,.75,.9,1.05,1.2,1.35,1.5,1.65,1.8,1.95,2.1,2.25,2.4,2.55,2.7,2.85,3.0,3.15,3.3,3.45,3.6,3.75,3.9,4.05,4.2,4.5,4.9,5.1,5.3,5.5,6.2,6.4,6.6,7.2,7.5,7.8,8.1,9.8,10,10.8,11.3,11.8,12.3];
const marksHighI = [.1,.3,.5,.65,.8,1,1.2,1.4,1.55,1.7,1.85,2,2.15,2.3,2.45,2.6,2.75,2.9,3.1,3.4,3.6,3.9,4.1,4.6,4.9,5.4,5.9,6.1,7,7.2,9.1,10.8,11.0,11.6];
const kmLowJ = [[0,1],[.25,.99],[.5,.98],[.7,.97],[.92,.958],[1.15,.94],[1.4,.925],[1.7,.91],[2,.894],[2.4,.87],[2.83,.848],[3.1,.83],[3.42,.806],[3.7,.785],[4.01,.767],[4.4,.755],[4.75,.746],[5.2,.73],[5.64,.717],[6.15,.7],[6.67,.682],[7.1,.668],[7.56,.654],[8.15,.633],[8.59,.601],[8.9,.58],[9.18,.558],[11.98,.495]];
const kmHighJ = [[0,1],[.2,.985],[.4,.97],[.6,.955],[.77,.94],[1,.92],[1.2,.905],[1.45,.885],[1.65,.869],[1.95,.84],[2.24,.806],[2.6,.77],[2.98,.735],[3.35,.71],[3.72,.689],[4.15,.67],[4.6,.654],[5.1,.632],[5.64,.611],[6.38,.59],[6.75,.575],[7.11,.562],[8.3,.555],[8.59,.527],[10.8,.481],[15.03,0]];
const marksLowJ = [.2,.5,.8,1.1,1.4,1.7,2.1,2.5,2.8,3.2,3.5,3.9,4.2,4.5,4.9,5.3,5.7,6.1,6.5,6.9,7.3,7.7,8.1,8.5,8.8,9.6,9.9,10.2,10.5,10.8,11.1,11.4,11.7,12.5,13.0,13.6,14.0,14.3,15,15.8,16.5];
const marksHighJ = [.3,.6,1,1.5,2,2.5,3,3.5,4,4.5,5,5.5,6,6.5,7,7.4,7.8,8.1,8.9,9.2,9.5,9.8,10.1,10.4,10.9,11.3,11.6,11.9,12.4,13.4,14.2];
const kmLowK = [[0,1],[.2,.98],[.38,.958],[.6,.94],[.82,.923],[1.1,.895],[1.37,.87],[1.7,.847],[2.03,.824],[2.25,.8],[2.48,.782],[3.03,.754],[3.36,.718],[4.13,.711],[4.46,.683],[5.97,.669],[6.12,.634],[7,.61],[7.12,.56],[9.1,.486]];
const kmHighK = [[0,1],[.2,.97],[.38,.94],[.6,.905],[.82,.87],[1.05,.82],[1.26,.782],[1.55,.75],[1.81,.722],[2.05,.68],[2.25,.641],[2.5,.625],[2.81,.606],[3.05,.575],[3.25,.546],[5.28,.426]];
const marksLowK = [.5,.65,.8,.95,1.1,1.25,1.4,1.55,1.7,1.85,2,2.15,2.3,2.45,2.6,2.75,2.9,3.05,3.2,3.5,3.8,4,4.3,4.6,4.9,5.2,5.5,5.8,6.4,6.7,7.3,7.6,8.0,8.3,8.6,9.8,10.3,11,11.7,12.3];
const marksHighK = [.2,.5,.7,.9,1.1,1.3,1.45,1.6,1.75,1.9,2.1,2.3,2.5,2.7,3,3.2,3.4,3.6,3.8,4,4.2,4.4,4.6,4.8,5.1,5.8,9.1,10.9,11.1,11.6];
const kmLowL = [[0,1],[0,.958],[.25,.92],[.47,.894],[.9,.875],[1.36,.859],[1.7,.83],[2.1,.806],[2.5,.79],[2.98,.774],[3.87,.763],[4.4,.735],[6,.733],[10,.731]];
const kmHighL = [[0,1],[0,.954],[.25,.92],[.47,.894],[.75,.85],[1.06,.806],[1.4,.75],[1.65,.7],[1.9,.685],[2.24,.675],[2.7,.65],[3.28,.625],[4.16,.615],[5.34,.604],[6,.592],[6.52,.583],[7.7,.565],[9.98,.53]];
const marksLowL = [.2,.35,.5,.65,.9,1.05,1.2,1.4,1.6,1.9,2.3,2.5,2.7,2.9,3.1,3.4,3.7,4.1,4.6,4.9,5.2,5.5,5.8,6.1,6.4,6.7,7,7.3,7.6,7.9,8.2,8.5,8.8,9.2,9.9,10.2,10.5,11,11.3,11.7,12,12.3,12.9,13.7,14.6,15.2,16.1,16.7];
const marksHighL = [.3,.8,2,2.2,2.4,2.7,3,3.3,3.6,4,4.4,4.8,5.2,5.6,6,6.3,6.6,6.9,7.2,7.5,7.7,8,8.3,8.6,8.9,9.2,9.5,10.2,10.6,10.9,11.2,11.6,12,12.2,13,13.4,14,14.5,15.3];
const atRiskI = { low: [258,122,42,21,10,4,1], high: [257,115,22,8,4,3,0], t: [0,2,4,6,8,10,12] };
const atRiskJ = { low: [249,200,138,85,35,20,8,4,1], high: [307,237,157,94,37,20,8,2,0], t: [0,2,4,6,8,10,12,14,16] };
const atRiskK = { low: [258,111,38,20,9,4,1], high: [257,99,16,5,5,4,0], t: [0,2,4,6,8,10,12] };
const atRiskL = { low: [246,173,123,77,35,18,7,4,2], high: [305,186,133,82,31,17,8,2,0], t: [0,2,4,6,8,10,12,14,16] };

const toXY = (pairs) => pairs.map(([x, y]) => ({ x, y }));
const num = (v, d) => v.toFixed(d).replace("-", "\u2212");

function T({ x, y, size = 6, rot = 0, anchor = "middle", color = INK, weight = 400, children }) {
  const shift = anchor === "end" ? "-100%" : anchor === "start" ? "0" : "-50%";
  return (
    <div
      style={{
        position: "absolute",
        left: x,
        top: y,
        fontSize: size,
        lineHeight: 1,
        color,
        fontWeight: weight,
        whiteSpace: "nowrap",
        transform: `translate(${shift},-50%) rotate(${rot}deg)`,
      }}
    >
      {children}
    </div>
  );
}

function Dot({ x, y, r = 1.7, color }) {
  return <div style={{ position: "absolute", left: x - r, top: y - r, width: 2 * r, height: 2 * r, borderRadius: "50%", background: color }} />;
}

const rotTick = (side, size = 5, labels = null, dec = 1) => (p) => {
  const { x, y, payload } = p;
  if (labels && !labels.includes(payload.value)) return <g />;
  const tx = side === "left" ? x : x + size * 0.8;
  const txt = dec === null ? String(payload.value).replace("-", "\u2212") : num(payload.value, dec);
  return (
    <text x={tx} y={y} transform={`rotate(-90 ${tx} ${y})`} textAnchor="middle" fontSize={size} fill={INK}>
      {txt}
    </text>
  );
};

// chart whose plot area is exactly the given pixel rectangle on the page;
// axes take 1px each, an axis of size 0 does not draw
function Plot({ x0, y0, x1, y1, axes = "lb", children }) {
  const used = (s) => (axes.includes(s) ? 1 : 0);
  return (
    <div style={{ position: "absolute", left: x0 - PAD, top: y0 - PAD }}>
      <ComposedChart
        width={x1 - x0 + 2 * PAD}
        height={y1 - y0 + 2 * PAD}
        margin={{ top: PAD - used("t"), right: PAD - used("r"), bottom: PAD - used("b"), left: PAD - used("l") }}
      >
        {children}
      </ComposedChart>
    </div>
  );
}

const frame = (xd, yd, stroke = FRAME, fill = "none", extra = {}) => (
  <ReferenceArea x1={xd[0]} x2={xd[1]} y1={yd[0]} y2={yd[1]} stroke={stroke} strokeWidth={1.5} fill={fill} fillOpacity={1} ifOverflow="visible" {...extra} />
);

const dotShape = (r, color) => (p) => <circle cx={p.cx} cy={p.cy} r={r} fill={color} />;

const xAxisR = (domain, ticks, size = 5) => (
  <XAxis type="number" dataKey="x" domain={domain} ticks={ticks} allowDataOverflow height={1} interval={0} axisLine={false} tickSize={3} tickMargin={3} tickLine={{ stroke: "#666" }} tick={{ fontSize: size, fill: INK }} tickFormatter={(v) => String(v).replace("-", "\u2212")} />
);

function CvPanel() {
  const rows = cvLambda.map((x, i) => ({ x, mean: cvMean[i], err: [cvMean[i] - cvLower[i], cvUpper[i] - cvMean[i]] }));
  const xd = [-8, -2.79];
  const yd = [11.85, 12.544];
  return (
    <Plot x0={37.7} y0={13} x1={238} y1={192} axes="lbt">
      {xAxisR(xd, [-8,-7,-6,-5,-4,-3])}
      <XAxis xAxisId="top" orientation="top" type="number" domain={xd} ticks={cvTopPos} allowDataOverflow height={1} interval={0} axisLine={false} tickLine={false} tickMargin={6} tick={{ fontSize: 5, fill: INK }} tickFormatter={(v, i) => String(cvTopCount[i])} />
      <YAxis type="number" domain={yd} ticks={[11.9,12,12.1,12.2,12.3,12.4,12.5]} allowDataOverflow width={1} interval={0} axisLine={false} tickSize={3} tickMargin={5} tickLine={{ stroke: "#666" }} tick={rotTick("left", 5)} />
      {frame(xd, yd)}
      <Line data={rows} dataKey="mean" stroke="none" isAnimationActive={false} dot={{ r: 1.1, fill: "#f01414", stroke: "none" }}>
        <ErrorBar dataKey="err" direction="y" width={2.5} stroke="#cfcfcf" strokeWidth={0.9} isAnimationActive={false} />
      </Line>
      <ReferenceLine x={-4.83} stroke="#333" strokeWidth={0.6} strokeDasharray="2 1.5" ifOverflow="visible" />
      <ReferenceLine x={-3} stroke="#333" strokeWidth={0.6} strokeDasharray="2 1.5" ifOverflow="visible" />
    </Plot>
  );
}

function PathPanel() {
  const xd = [-8, -2.794];
  const yd = [-0.3232, 0.0599];
  const lines = [[pathBlack, "#555"], [pathGreen, "#a6dc9e"], [pathBlue, "#7cbbe8"], [pathPink, "#ee8fa4"]];
  const tags = [[-7.92, .045, "1"], [-7.92, -.083, "4"], [-7.92, -.097, "6"], [-7.92, -.309, "3"]];
  return (
    <Plot x0={35} y0={234.3} x1={237.3} y1={415.7} axes="lbt">
      {xAxisR(xd, [-8,-7,-6,-5,-4,-3])}
      <XAxis xAxisId="top" orientation="top" type="number" domain={xd} ticks={pathTopPos} allowDataOverflow height={1} interval={0} axisLine={false} tickLine={false} tickMargin={5} tick={{ fontSize: 5, fill: INK }} tickFormatter={(v, i) => String(pathTopCount[i])} />
      <YAxis type="number" domain={yd} ticks={[-.3,-.25,-.2,-.15,-.1,-.05,0,.05]} allowDataOverflow width={1} interval={0} axisLine={false} tickSize={3} tickMargin={5} tickLine={{ stroke: "#666" }} tick={rotTick("left", 5, null, 2)} />
      {frame(xd, yd)}
      {lines.map(([d, c], i) => (
        <Line key={i} data={toXY(d)} dataKey="y" stroke={c} strokeWidth={1} dot={false} isAnimationActive={false} />
      ))}
      {tags.map(([x, y, t]) => (
        <ReferenceDot key={y} x={x} y={y} r={0} stroke="none" label={{ value: t, fontSize: 3.5, fill: INK }} />
      ))}
    </Plot>
  );
}

function PairCell({ cfg, r, c }) {
  const xd = cfg.dom[c];
  const yd = cfg.dom[r];
  const [x0, x1] = cfg.xs[c];
  const [y0, y1] = cfg.ys[r];
  const top = r === 0 && (c === 1 || c === 3);
  const bottom = r === 3 && (c === 0 || c === 2);
  const left = c === 0 && (r === 1 || r === 3);
  const right = c === 3 && (r === 0 || r === 2);
  const tx = cfg.ticks[c];
  const ty = cfg.ticks[r];
  const pts = r > c ? cfg.rows.map((row) => ({ x: row[c], y: row[r] })) : [];
  const fit = r > c ? cfg.fit[`${r},${c}`] : null;
  let fill = "#fff";
  let label = null;
  if (r === c) label = { value: varNames[r], position: "center", fontSize: 3.4, fill: "#333" };
  if (r < c) {
    const v = cfg.corr[r][c];
    const g = Math.round(255 * (1 - Math.abs(v)));
    fill = v > 0 ? `rgb(255,${g},${g})` : `rgb(${g},${g},255)`;
    label = { value: num(v, 2), position: "center", fontSize: v < 0 ? 14.6 : 18.5, fill: "#111" };
  }
  const axes = (top ? "t" : "") + (bottom ? "b" : "") + (left ? "l" : "") + (right ? "r" : "");
  return (
    <Plot x0={x0} y0={y0} x1={x1} y1={y1} axes={axes}>
      <XAxis type="number" dataKey="x" orientation={top ? "top" : "bottom"} hide={!top && !bottom} domain={xd} ticks={tx.all} allowDataOverflow height={1} interval={0} axisLine={false} tickSize={2} tickMargin={1.5} tickLine={{ stroke: "#555" }} tick={{ fontSize: 4.6, fill: INK }} tickFormatter={(v) => (tx.xLab.includes(v) ? num(v, tx.dec) : "")} />
      <YAxis type="number" dataKey="y" orientation={left ? "left" : "right"} hide={!left && !right} domain={yd} ticks={ty.all} allowDataOverflow width={1} interval={0} axisLine={false} tickSize={2} tickMargin={2} tickLine={{ stroke: "#555" }} tick={rotTick(left ? "left" : "right", 4.6, ty.yLab, ty.dec)} />
      {frame(xd, yd, FRAME, fill, label ? { label } : {})}
      {r > c && <Scatter data={pts} isAnimationActive={false} shape={dotShape(1.3, "#0000ff")} />}
      {fit && (
        <ReferenceLine
          segment={[{ x: xd[0], y: fit[0] }, { x: xd[1], y: fit[1] }]}
          stroke="#111"
          strokeWidth={1.1}
          ifOverflow="visible"
        />
      )}
    </Plot>
  );
}

function PairPanel({ cfg }) {
  const cells = [];
  for (let r = 0; r < 4; r++) for (let c = 0; c < 4; c++) cells.push(<PairCell key={`${r}${c}`} cfg={cfg} r={r} c={c} />);
  return <>{cells}</>;
}

const pairC = {
  rows: pairRowsC, corr: corrC, fit: fitC, ticks: tickC,
  dom: [[.674,1.014],[-.02,.453],[.009,.525],[-2.47,-1.05]],
  xs: [[301.3,349.3],[352.3,400],[403.3,450.7],[454.3,501.7]],
  ys: [[20,62],[66,108.3],[111.3,153.3],[157.3,200]],
};
const pairD = {
  rows: pairRowsD, corr: corrD, fit: fitD, ticks: tickD,
  dom: [[.664,1.007],[-.012,.415],[.133,.469],[-2.479,-1.082]],
  xs: [[300.3,347.7],[351,398],[401.3,448.7],[452.3,499.7]],
  ys: [[243.3,285.7],[289,331],[334.3,376.3],[380,422.3]],
};

function RiskCurve({ rect, xd, yd, vx, hy, low, high, xt }) {
  return (
    <Plot {...rect}>
      {xAxisR(xd, xt)}
      <YAxis type="number" domain={yd} ticks={[-2.4,-2.2,-2,-1.8,-1.6,-1.4,-1.2]} allowDataOverflow width={1} interval={0} axisLine={false} tickSize={3} tickMargin={6} tickLine={{ stroke: "#666" }} tick={rotTick("left", 5, [-2.4,-2,-1.6,-1.2], 1)} />
      {frame(xd, yd)}
      <Line data={toXY(low)} dataKey="y" stroke={BLUE} strokeWidth={2.6} dot={false} isAnimationActive={false} />
      <Line data={toXY(high)} dataKey="y" stroke={RED} strokeWidth={2.2} dot={{ r: 1.1, fill: RED, stroke: "none" }} isAnimationActive={false} />
      <ReferenceLine x={vx} stroke="#333" strokeWidth={0.7} strokeDasharray="1.5 1.5" ifOverflow="visible" />
      <ReferenceLine y={hy} stroke="#333" strokeWidth={0.7} strokeDasharray="1.5 1.5" ifOverflow="visible" />
    </Plot>
  );
}

function SurvScatter({ rect, xd, yd, vx, dead, alive, xt, yt }) {
  return (
    <Plot {...rect}>
      {xAxisR(xd, xt)}
      <YAxis type="number" dataKey="y" domain={yd} ticks={yt} allowDataOverflow width={1} interval={0} axisLine={false} tickSize={3} tickMargin={6} tickLine={{ stroke: "#666" }} tick={rotTick("left", 5, null, null)} />
      {frame(xd, yd)}
      <Scatter data={toXY(alive)} isAnimationActive={false} shape={dotShape(1.65, BLUE)} />
      <Scatter data={toXY(dead)} isAnimationActive={false} shape={dotShape(1.65, RED)} />
      <ReferenceLine x={vx} stroke="#333" strokeWidth={0.7} strokeDasharray="1.5 1.5" ifOverflow="visible" />
    </Plot>
  );
}

function PcaPlot({ rect, xd, yd, high, low, yt }) {
  return (
    <Plot {...rect}>
      <XAxis type="number" dataKey="x" domain={xd} ticks={[-2,0,2,4]} allowDataOverflow height={1} interval={0} axisLine={false} tickSize={2} tickMargin={2} tickLine={{ stroke: "#888" }} tick={{ fontSize: 5, fill: "#777" }} tickFormatter={(v) => String(v).replace("-", "\u2212")} />
      <YAxis type="number" dataKey="y" domain={yd} ticks={yt} allowDataOverflow width={1} interval={0} axisLine={false} tickSize={2} tickMargin={1.5} tickLine={{ stroke: "#888" }} tick={{ fontSize: 5, fill: "#777" }} tickFormatter={(v) => String(v).replace("-", "\u2212")} />
      {frame(xd, yd, "#bdbdbd")}
      <Scatter data={toXY(high)} isAnimationActive={false} shape={dotShape(1.5, RED)} />
      <Scatter data={toXY(low)} isAnimationActive={false} shape={dotShape(1.5, BLUE)} />
    </Plot>
  );
}

const plusShape = (color) => (p) => (
  <g stroke={color} strokeWidth={0.8}>
    <line x1={p.cx - 2.2} x2={p.cx + 2.2} y1={p.cy} y2={p.cy} />
    <line x1={p.cx} x2={p.cx} y1={p.cy - 2.2} y2={p.cy + 2.2} />
  </g>
);

const survAt = (curve, t) => {
  let s = curve[0][1];
  for (const [x, y] of curve) if (x <= t) s = y;
  return s;
};

function KeyIcon({ x, y, color }) {
  return (
    <svg style={{ position: "absolute", left: x, top: y - 3 }} width={8} height={6}>
      <line x1={0} x2={8} y1={3} y2={3} stroke={color} strokeWidth={1.1} />
      <line x1={4} x2={4} y1={1} y2={5} stroke={color} strokeWidth={0.8} />
    </svg>
  );
}

function KmPanel({ g, low, high, mLow, mHigh, risk, xd, yTitle, stats, endLow, endHigh }) {
  const yd = [-.053, 1.053];
  const lowData = toXY([...low, [endLow, low[low.length - 1][1]]]);
  const highData = toXY([...high, [endHigh, high[high.length - 1][1]]]);
  const lowMarks = mLow.map((t) => ({ x: t, y: survAt(low, t) }));
  const highMarks = mHigh.map((t) => ({ x: t, y: survAt(high, t) }));
  const unit = g.rowHigh - g.rowLow;
  const tTop = g.rowLow - 4;
  const tYd = [-(g.tableLine - g.rowHigh) / unit, 1 + (g.rowLow - tTop) / unit];
  const rows = risk.t.flatMap((t, i) => [{ x: t, y: 1, n: risk.low[i] }, { x: t, y: 0, n: risk.high[i] }]);
  const cx = (g.x0 + g.x1) / 2 - 0.5;
  const axisProps = { axisLine: { stroke: "#333" }, tickLine: { stroke: "#333" }, tickSize: 2, tick: { fontSize: 7.5, fill: "#222" } };
  return (
    <>
      <Plot x0={g.x0} y0={g.y0} x1={g.x1} y1={g.y1}>
        <XAxis type="number" dataKey="x" domain={xd} ticks={risk.t} allowDataOverflow height={1} interval={0} tickMargin={0} {...axisProps} />
        <YAxis type="number" dataKey="y" domain={yd} ticks={[0,.25,.5,.75,1]} allowDataOverflow width={1} interval={0} tickMargin={0.5} tickFormatter={(v) => v.toFixed(2)} {...axisProps} />
        <Line data={lowData} dataKey="y" type="stepAfter" stroke={BLUE} strokeWidth={1.4} dot={false} isAnimationActive={false} />
        <Line data={highData} dataKey="y" type="stepAfter" stroke={RED} strokeWidth={1.4} dot={false} isAnimationActive={false} />
        <Scatter data={lowMarks} isAnimationActive={false} shape={plusShape(BLUE)} />
        <Scatter data={highMarks} isAnimationActive={false} shape={plusShape(RED)} />
      </Plot>
      <Plot x0={g.x0} y0={tTop} x1={g.x1} y1={g.tableLine}>
        <XAxis type="number" dataKey="x" domain={xd} ticks={risk.t} allowDataOverflow height={1} interval={0} tickMargin={0} {...axisProps} />
        <YAxis
          type="number"
          dataKey="y"
          domain={tYd}
          ticks={[0, 1]}
          allowDataOverflow
          width={1}
          interval={0}
          axisLine={{ stroke: "#333" }}
          tickLine={{ stroke: "#333" }}
          tickSize={2}
          tick={(p) => (
            <text x={p.x} y={p.y + 2.6} textAnchor="end" fontSize={7} fill={p.payload.value === 1 ? BLUE : RED}>
              {p.payload.value === 1 ? "Low risk" : "High risk"}
            </text>
          )}
        />
        <Scatter
          data={rows}
          isAnimationActive={false}
          shape={(p) => (
            <text x={p.cx} y={p.cy + 2.7} textAnchor="middle" fontSize={7.5} fill="#222">
              {p.payload.n}
            </text>
          )}
        />
      </Plot>
      <T x={cx} y={g.y1 + 14} size={8.2} color="#222">Time(years)</T>
      <T x={cx} y={g.tableLine + 14} size={8.2} color="#222">Time(years)</T>
      <T x={g.x0 - 35.5} y={(g.y0 + g.y1) / 2 + 0.5} size={8.2} rot={-90} color="#222">{yTitle}</T>
      <T x={g.x0 - 35.5} y={g.rowLow + 3} size={8} rot={-90} color="#222">Risk</T>
      {stats.map(([x, y, s]) => (
        <T key={s} x={x} y={y} size={7.9} color="#222">{s}</T>
      ))}
      <T x={g.x0 + 62} y={g.y0 - 15} size={5.8}>Risk</T>
      <KeyIcon x={g.x0 + 71} y={g.y0 - 15} color={BLUE} />
      <T x={g.x0 + 83} y={g.y0 - 15} size={5.8} anchor="start">Low risk</T>
      <KeyIcon x={g.x0 + 108} y={g.y0 - 15} color={RED} />
      <T x={g.x0 + 119} y={g.y0 - 15} size={5.8} anchor="start">High risk</T>
    </>
  );
}

const letters = [["A",7.5,10],["B",6.7,232],["C",279.3,10],["D",278.3,232],["E",547.7,10],["F",546.7,232],["G",7.3,480],["H",5.7,694],["I",279,480],["J",272.3,694],["K",550.3,480.7],["L",540.3,694]];
const xt500 = [0,100,200,300,400,500];

export default function App() {
  return (
    <div style={{ position: "fixed", left: 0, top: 0, width: 792, height: 886, overflow: "hidden", background: "#fff", filter: "blur(0.35px)", fontFamily: "'Liberation Sans', Arial, sans-serif" }}>
      <CvPanel />
      <T x={138} y={216} size={5.5}>Log(λ)</T>
      <T x={13.5} y={102} size={5.6} rot={-90}>Partial Likelihood Deviance</T>
      <PathPanel />
      <T x={136} y={440.7} size={5.6}>Log Lambda</T>
      <T x={10.7} y={325} size={5.6} rot={-90}>Coefficients</T>

      <PairPanel cfg={pairC} />
      <PairPanel cfg={pairD} />

      <RiskCurve rect={{ x0: 582.7, y0: 5, x1: 788.3, y1: 85 }} xd={[-17.9,534]} yd={[-2.502,-1.062]} vx={258} hy={-1.878} low={riskLowE} high={riskHighE} xt={xt500} />
      <SurvScatter rect={{ x0: 582.7, y0: 109.3, x1: 788.3, y1: 187.7 }} xd={[-17.9,534]} yd={[-1.18,18.6]} vx={258} dead={survDeadE} alive={survAliveE} xt={xt500} yt={[0,5,10,15]} />
      <T x={685} y={107.7} size={5.7}>Patients (increasing risk socre)</T>
      <T x={685.3} y={211.7} size={5.7}>Patients (increasing risk socre)</T>
      <T x={557.3} y={44} size={5.6} rot={-90}>Risk score</T>
      <T x={557.3} y={148} size={5.6} rot={-90}>Survival time (years)</T>
      <Dot x={589.3} y={14} color={RED} /><T x={595.7} y={14} size={6.6} anchor="start">High risk</T>
      <Dot x={589.3} y={22.3} color={BLUE} /><T x={595.7} y={22.3} size={6.6} anchor="start">Low Risk</T>
      <Dot x={589.3} y={117.7} color={RED} /><T x={595} y={117.7} size={6.6} anchor="start">Dead</T>
      <Dot x={589.3} y={126.3} color={BLUE} /><T x={595} y={126.3} size={6.6} anchor="start">Alive</T>

      <RiskCurve rect={{ x0: 582.7, y0: 235, x1: 788.3, y1: 311 }} xd={[-21.3,575]} yd={[-2.48,-1.07]} vx={248} hy={-1.885} low={riskLowF} high={riskHighF} xt={xt500} />
      <SurvScatter rect={{ x0: 584, y0: 338.3, x1: 789, y1: 417.7 }} xd={[-22,573.6]} yd={[-1.33,18.5]} vx={248} dead={survDeadF} alive={survAliveF} xt={xt500} yt={[0,5,10,15]} />
      <T x={686} y={336.7} size={5.7}>Patients (increasing risk socre)</T>
      <T x={687.7} y={440.7} size={5.7}>Patients (increasing risk socre)</T>
      <T x={558.3} y={272.7} size={5.6} rot={-90}>Risk score</T>
      <T x={560} y={376.7} size={5.6} rot={-90}>Survival time (years)</T>
      <Dot x={589.3} y={242.7} color={RED} /><T x={595.7} y={242.7} size={6.6} anchor="start">High risk</T>
      <Dot x={589.3} y={251.3} color={BLUE} /><T x={595.7} y={251.3} size={6.6} anchor="start">Low Risk</T>
      <Dot x={591} y={346.7} color={RED} /><T x={597.7} y={346.7} size={6.6} anchor="start">Dead</T>
      <Dot x={591} y={355.3} color={BLUE} /><T x={597.7} y={355.3} size={6.6} anchor="start">Alive</T>

      <PcaPlot rect={{ x0: 35.7, y0: 498.3, x1: 217.7, y1: 664.3 }} xd={[-3.84,5.04]} yd={[-2.48,2.42]} high={pcaHighG} low={pcaLowG} yt={[-2,-1,0,1,2]} />
      <T x={126.7} y={676.7} size={6.2}>PC1</T>
      <T x={21.7} y={581.7} size={6.2} rot={-90}>PC2</T>
      <T x={91.7} y={587.7} size={11} color="#222">low</T>
      <T x={136.7} y={574} size={11} color="#222">high</T>
      <T x={243.3} y={570.3} size={6}>Risk</T>
      <Dot x={232.3} y={581.3} r={1.35} color={RED} /><T x={245} y={581.3} size={5.3}>high</T>
      <Dot x={232.3} y={591.3} r={1.35} color={BLUE} /><T x={245} y={591.3} size={5.3}>low</T>

      <PcaPlot rect={{ x0: 36.7, y0: 705.3, x1: 218.3, y1: 870.7 }} xd={[-3.75,5.14]} yd={[-3.68,2.02]} high={pcaHighH} low={pcaLowH} yt={[-3,-2,-1,0,1,2]} />
      <T x={127.3} y={882.7} size={6.2}>PC1</T>
      <T x={22.7} y={788} size={6.2} rot={-90}>PC2</T>
      <T x={89.3} y={772} size={11} color="#222">low</T>
      <T x={132.7} y={758.3} size={11} color="#222">high</T>
      <T x={244} y={776.7} size={6}>Risk</T>
      <Dot x={233} y={787.7} r={1.35} color={RED} /><T x={245.7} y={787.7} size={5.3}>high</T>
      <Dot x={233} y={797.7} r={1.35} color={BLUE} /><T x={245.7} y={797.7} size={5.3}>low</T>

      <KmPanel g={{ x0: 320.7, y0: 500, x1: 519, y1: 604.3, rowLow: 644.7, rowHigh: 650.7, tableLine: 655 }} low={kmLowI} high={kmHighI} mLow={marksLowI} mHigh={marksHighI} risk={atRiskI} xd={[-.575,12.57]} endLow={12.35} endHigh={11.6} yTitle="Overall survival" stats={[[362.3,576,"p<0.001"],[366.7,585.3,"HR=2.008"],[367,595,"95%CI: 1.344\u22123.002"]]} />
      <KmPanel g={{ x0: 320.7, y0: 705, x1: 519, y1: 809.3, rowLow: 850.3, rowHigh: 856.3, tableLine: 860.3 }} low={kmLowJ} high={kmHighJ} mLow={marksLowJ} mHigh={marksHighJ} risk={atRiskJ} xd={[-.8,16.77]} endLow={16.56} endHigh={15.03} yTitle="Overall survival" stats={[[353.3,781,"p=0.029"],[357.7,790.3,"HR=1.385"],[358,800,"95%CI: 1.032\u22121.859"]]} />
      <KmPanel g={{ x0: 587.3, y0: 500.7, x1: 786, y1: 605, rowLow: 646, rowHigh: 652.7, tableLine: 656.7 }} low={kmLowK} high={kmHighK} mLow={marksLowK} mHigh={marksHighK} risk={atRiskK} xd={[-.6,12.57]} endLow={12.38} endHigh={11.65} yTitle="Ralapse-free survival" stats={[[630,577.7,"p=0.002"],[634,587,"HR=1.74"],[634.3,596.3,"95%CI: 1.23\u22122.462"]]} />
      <KmPanel g={{ x0: 587.3, y0: 705, x1: 786, y1: 809.3, rowLow: 850.3, rowHigh: 857, tableLine: 860.7 }} low={kmLowL} high={kmHighL} mLow={marksLowL} mHigh={marksHighL} risk={atRiskL} xd={[-.83,16.77]} endLow={16.7} endHigh={15.38} yTitle="Relapse-free survival" stats={[[620.3,781,"p<0.001"],[625,790.3,"HR=1.719"],[625,800,"95%CI: 1.259\u22122.346"]]} />

      {letters.map(([s, x, y]) => (
        <T key={s} x={x} y={y} size={18} weight={700} color="#000">{s}</T>
      ))}
    </div>
  );
}
